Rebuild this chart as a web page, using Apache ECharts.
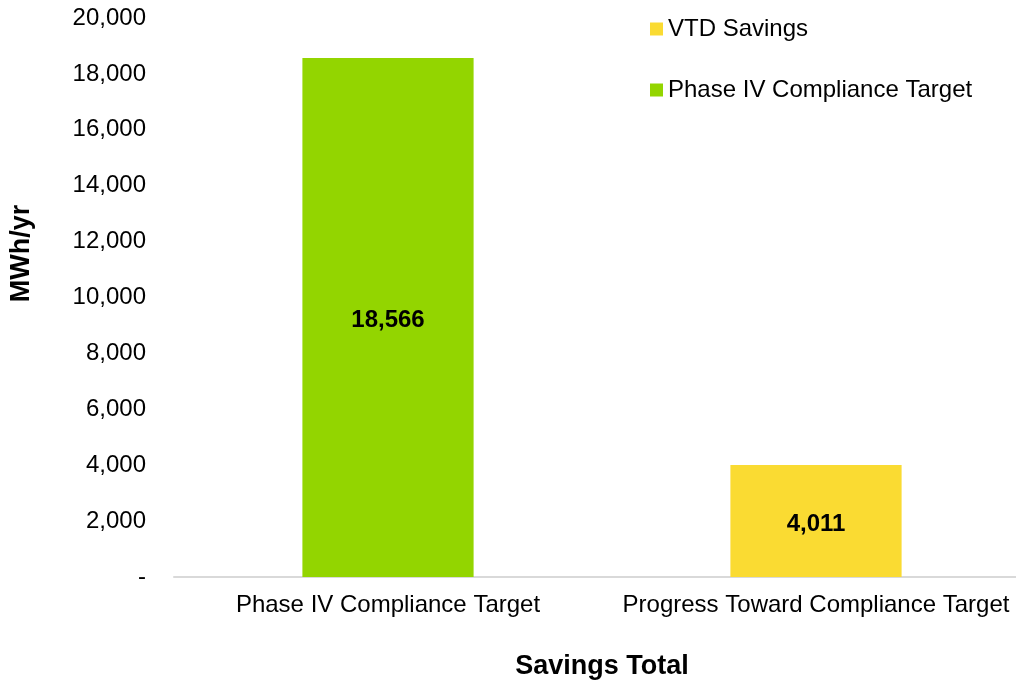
<!DOCTYPE html>
<html>
<head>
<meta charset="utf-8">
<script src="https://cdn.jsdelivr.net/npm/echarts@6/dist/echarts.min.js"></script>
<style>html,body{margin:0;padding:0;background:#fff;overflow:hidden;width:1016px;height:683px}#c{width:1030px;height:683px}</style>
</head>
<body>
<div id="c"></div>
<script>
const categories = ['Phase IV Compliance Target', 'Progress Toward Compliance Target'];
const vtdSavings = [null, 4011];
const phaseIVTarget = [18566, null];
const yTicks = [0, 2000, 4000, 6000, 8000, 10000, 12000, 14000, 16000, 18000, 20000];

const font = 'Liberation Sans, Arial, sans-serif';
const fmt = v => v === 0 ? '-' : v.toLocaleString('en-US');
const chart = echarts.init(document.getElementById('c'));
const lbl = {
  show: true, position: 'inside', color: '#000', fontWeight: 'bold', fontSize: 24,
  fontFamily: font, formatter: p => p.value.toLocaleString('en-US'), offset: [0, 3]
};
chart.setOption({
  animation: false,
  textStyle: { fontFamily: font },
  legend: {
    orient: 'vertical', left: 645, top: 12, itemGap: 37,
    itemWidth: 13, itemHeight: 13, icon: 'rect',
    textStyle: { fontSize: 24, color: '#000', fontFamily: font },
    data: ['VTD Savings', 'Phase IV Compliance Target']
  },
  grid: { left: 174, right: 0, top: 18, bottom: 106, containLabel: false, outerBoundsMode: 'none' },
  xAxis: {
    type: 'category', data: categories,
    name: 'Savings Total', nameLocation: 'middle', nameGap: 76,
    nameTextStyle: { fontSize: 27, fontWeight: 'bold', color: '#000', fontFamily: font },
    axisLine: { lineStyle: { color: '#d9d9d9', width: 2 } },
    axisTick: { show: false },
    axisLabel: { fontSize: 24, color: '#000', margin: 16, fontFamily: font, interval: 0 }
  },
  yAxis: {
    type: 'value', min: 0, max: 20000, interval: 2000,
    name: 'MWh/yr', nameLocation: 'middle', nameGap: 139, nameRotate: 90,
    nameTextStyle: { fontSize: 27, fontWeight: 'bold', color: '#000', fontFamily: font, padding: [0, 0, 0, 88] },
    splitLine: { show: false },
    axisLine: { show: false }, axisTick: { show: false },
    axisLabel: { fontSize: 24, color: '#000', margin: 28, fontFamily: font, formatter: fmt }
  },
  series: [
    { name: 'VTD Savings', type: 'bar', stack: 's', data: vtdSavings, barWidth: '40%',
      itemStyle: { color: '#FADB32' }, label: lbl },
    { name: 'Phase IV Compliance Target', type: 'bar', stack: 's', data: phaseIVTarget, barWidth: '40%',
      itemStyle: { color: '#93D500' }, label: lbl }
  ]
});
</script>
</body>
</html>
